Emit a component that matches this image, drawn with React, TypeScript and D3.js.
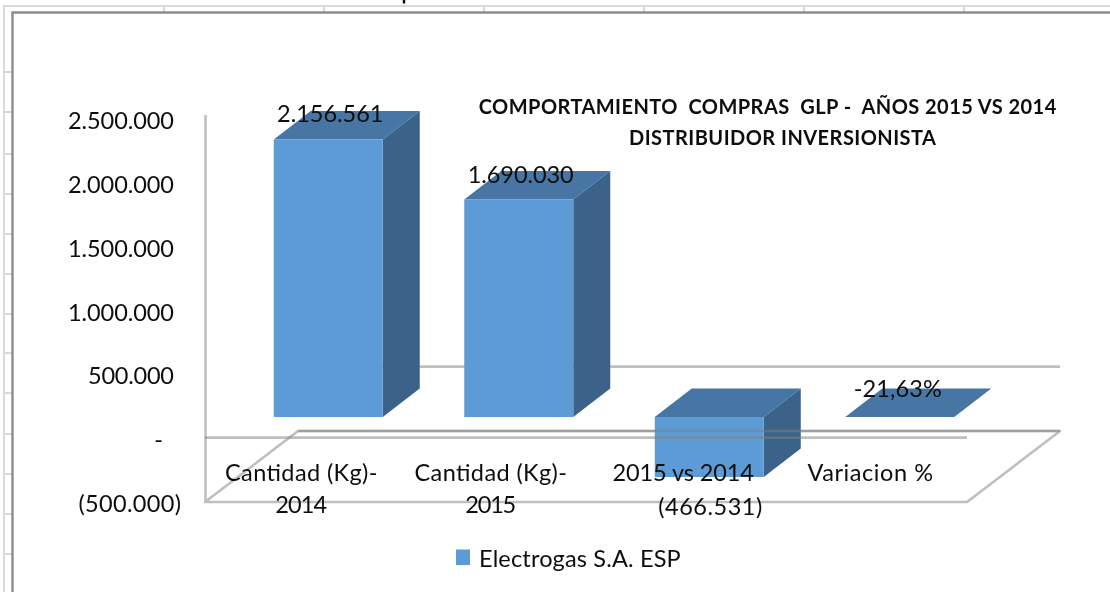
import React from "react";
import * as d3 from "d3";

const categories: string[][] = [["Cantidad (Kg)-", "2014"], ["Cantidad (Kg)-", "2015"], ["2015 vs 2014"], ["Variacion %"]];
const values = [2156561, 1690030, -466531, -0.2163];
const valueLabels = ["2.156.561", "1.690.030", "(466.531)", "-21,63%"];
const tickValues = [2500000, 2000000, 1500000, 1000000, 500000, 0, -500000];
const tickLabels = ["2.500.000", "2.000.000", "1.500.000", "1.000.000", "500.000", "-", "(500.000)"];
const titleLines = ["COMPORTAMIENTO  COMPRAS  GLP -  AÑOS 2015 VS 2014", "DISTRIBUIDOR INVERSIONISTA"];
const legendLabel = "Electrogas S.A. ESP";
const sheetRows = [72, 112, 154, 194, 234, 274, 314, 353, 393, 434, 474, 514, 554];
const sheetCols = [164, 324, 484, 644, 804, 964];

const W = 1110, H = 592;
const font = "Lato, Carlito, Calibri, sans-serif";
const ink = "#0c0c0c";
const front = "#5B9BD5", topC = "#4776A4", side = "#3B648A";
const grid = "#d9d9d9", border = "#8c8c8c", axisC = "#bfbfbf";

const x = d3.scaleBand<number>().domain(d3.range(4)).range([205, 967]);
const y = d3.scaleLinear().domain([-500000, 2500000]).range([502, 116]);
const labelY = d3.scaleLinear().domain([-500000, 2500000]).range([512, 129]);

const floorDx = 93, floorDy = 71;
const barDx = 37, barDy = 28.5;
const barW = 109;
const barShiftX = 28, barShiftY = 20.7;

const poly = (pts: number[][]) => d3.line()(pts as [number, number][]) + "Z";

const tickX = (l: string) => (l === "-" ? 163 : l.startsWith("(") ? 181 : 174);
const valueDy = [-17, -17, 38.5, -19.5];
const valueDx = [2, 2, 1, -2];
const categoryDx = [1, 0, 2, -1.5];

// Measured text widths: the reference font is narrower in its glyphs and more loosely spaced.
const textWidths: Record<string, number> = {
  "2.500.000": 106, "2.000.000": 106, "1.500.000": 106, "1.000.000": 106, "500.000": 86, "(500.000)": 102.5,
  "Cantidad (Kg)-": 152.5, "2014": 52, "2015": 51, "2015 vs 2014": 141.5, "Variacion %": 125.6,
  "2.156.561": 106.4, "1.690.030": 106, "(466.531)": 104, "-21,63%": 88,
  [legendLabel]: 201.7, [titleLines[0]]: 577.5, [titleLines[1]]: 307,
};

const Label = (p: { x: number; y: number; s: string; anchor?: string }) => (
  <text
    x={p.x}
    y={p.y}
    textAnchor={p.anchor ?? "start"}
    textLength={textWidths[p.s]}
    lengthAdjust={textWidths[p.s] ? "spacing" : undefined}
    xmlSpace="preserve"
  >
    {p.s}
  </text>
);

export default function App() {
  const y0 = y(0);
  const fy0 = y0 - barShiftY;
  return (
    <svg width={W} height={H} viewBox={`0 0 ${W} ${H}`} style={{ position: "absolute", left: 0, top: 0, background: "#fff" }} fontFamily={font}>
      <defs>
        <filter id="soft" x="-5%" y="-5%" width="110%" height="110%">
          <feGaussianBlur stdDeviation="0.55" />
        </filter>
      </defs>
      {/* sheet behind the chart */}
      <g stroke={grid} strokeWidth={2} fill="none">
        <path d={`M4,${H}V6H${W}`} />
        {sheetRows.map((r) => <line key={r} x1={4} x2={12} y1={r} y2={r} />)}
        {sheetCols.map((c) => <line key={c} x1={c} x2={c} y1={6} y2={12} />)}
      </g>
      <line x1={404} x2={404} y1={0} y2={3.5} stroke={ink} strokeWidth={2.4} />
      <path d={`M12.5,${H}V12.5H${W}`} fill="none" stroke={border} strokeWidth={2.4} />

      <g filter="url(#soft)">
        {/* back wall */}
        <line x1={x(0)! + floorDx} x2={x(3)! + x.bandwidth() + floorDx} y1={y0 - floorDy} y2={y0 - floorDy} stroke={axisC} strokeWidth={2.6} />
        <line x1={205.5} x2={205.5} y1={y(2500000) - 1} y2={y(-500000)} stroke={axisC} strokeWidth={2.6} />
        {/* floor, front */}
        <path d={poly([[205, 502], [967, 502], [967 + floorDx, 502 - floorDy], [205 + floorDx, 502 - floorDy]])} fill="none" stroke={axisC} strokeWidth={2.6} strokeLinejoin="round" />

        {values.map((v, i) => {
          const cx = x(i)! + x.bandwidth() / 2 + barShiftX;
          const l = cx - barW / 2, r = cx + barW / 2;
          const a = fy0, b = y(v) - barShiftY;
          const t = Math.min(a, b), bt = Math.max(a, b);
          return (
            <g key={i}>
              <path d={poly([[l, t], [r, t], [r + barDx, t - barDy], [l + barDx, t - barDy]])} fill={topC} />
              <path d={poly([[r, t], [r + barDx, t - barDy], [r + barDx, bt - barDy], [r, bt]])} fill={side} />
              <path d={poly([[l, t], [r, t], [r, bt], [l, bt]])} fill={front} />
            </g>
          );
        })}

        {/* floor lines and zero line over the bars */}
        <line x1={205 + floorDx} x2={967 + floorDx} y1={502 - floorDy} y2={502 - floorDy} stroke="#7f7f7f" strokeOpacity={0.5} strokeWidth={2.6} />
        <line x1={205} x2={967} y1={y0} y2={y0} stroke="#7f7f7f" strokeOpacity={0.5} strokeWidth={2.6} />

        {/* legend swatch */}
        <rect x={456} y={549.5} width={14} height={15.5} fill={front} />

        <g fill={ink} fontSize={23.5}>
          {tickValues.map((t, i) => (
            <Label key={t} x={tickX(tickLabels[i])} y={labelY(t)} s={tickLabels[i]} anchor="end" />
          ))}
          {categories.map((lines, i) =>
            lines.map((s, j) => (
              <Label key={j} x={x(i)! + x.bandwidth() / 2 + categoryDx[i]} y={481 + j * 31.7} s={s} anchor="middle" />
            ))
          )}
          {values.map((v, i) => (
            <Label key={i} x={x(i)! + x.bandwidth() / 2 + barShiftX + valueDx[i]} y={y(v) - barShiftY + valueDy[i]} s={valueLabels[i]} anchor="middle" />
          ))}
          <Label x={479} y={566.7} s={legendLabel} />
        </g>
        <g fill={ink} fontSize={20} fontWeight={700}>
          <Label x={767.5} y={114} s={titleLines[0]} anchor="middle" />
          <Label x={782.5} y={144.5} s={titleLines[1]} anchor="middle" />
        </g>
      </g>
    </svg>
  );
}
